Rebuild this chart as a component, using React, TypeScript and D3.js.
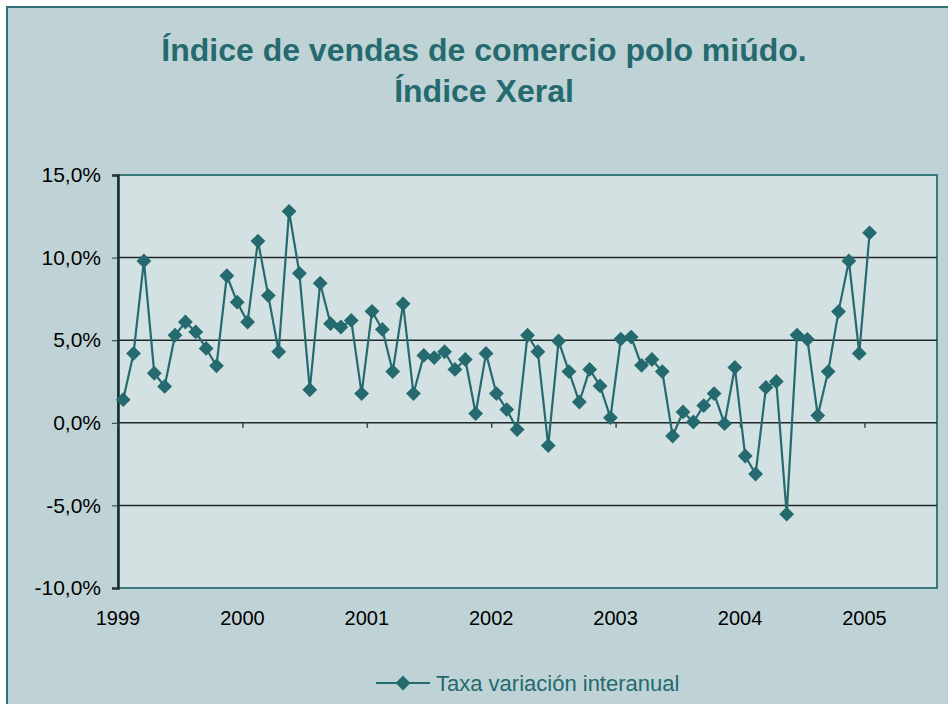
import { useEffect, useRef } from "react";
import * as d3 from "d3";

// taxa de variación interanual, mensual xan 1999 - xan 2005
const values = [
  1.4, 4.2, 9.8, 3.0, 2.2, 5.3, 6.1, 5.5, 4.5, 3.45, 8.9, 7.3,
  6.1, 11.0, 7.7, 4.3, 12.8, 9.05, 2.0, 8.45, 6.0, 5.8, 6.2, 1.77,
  6.75, 5.65, 3.1, 7.2, 1.77, 4.08, 3.95, 4.3, 3.23, 3.83, 0.56, 4.2,
  1.77, 0.8, -0.41, 5.3, 4.3, -1.38, 4.95, 3.1, 1.26, 3.23, 2.23, 0.31,
  5.07, 5.19, 3.48, 3.83, 3.1, -0.8, 0.66, 0.05, 1.04, 1.77, -0.05, 3.35,
  -2.01, -3.1, 2.14, 2.5, -5.53, 5.31, 5.05, 0.44, 3.1, 6.73, 9.8, 4.2,
  11.5,
];
const yearLabels = ["1999", "2000", "2001", "2002", "2003", "2004", "2005"];
const yTicks = [-10, -5, 0, 5, 10, 15];
const titleLines = ["Índice de vendas de comercio polo miúdo.", "Índice Xeral"];
const seriesName = "Taxa variación interanual";

const W = 948,
  H = 704;
const teal = "#246a6e";
const font = "'Liberation Sans', Arial, sans-serif";

const App = () => {
  const ref = useRef<SVGSVGElement>(null);

  useEffect(() => {
    const svg = d3.select(ref.current);
    svg.selectAll("*").remove();

    const margin = { top: 175, right: 11, bottom: 116, left: 118 };
    const nCats = 79;

    const x = d3.scaleLinear().domain([0, nCats]).range([margin.left, W - margin.right]);
    const y = d3.scaleLinear().domain([-10, 15]).range([H - margin.bottom, margin.top]);

    svg.append("rect").attr("width", W).attr("height", H).attr("fill", "#ffffff");
    svg
      .append("rect")
      .attr("x", 7)
      .attr("y", 7)
      .attr("width", W + 10)
      .attr("height", H + 10)
      .attr("fill", "#bfd3d6")
      .attr("stroke", "#2f7074")
      .attr("stroke-width", 2);

    // title
    svg
      .append("g")
      .selectAll("text")
      .data(titleLines)
      .enter()
      .append("text")
      .attr("x", 484)
      .attr("y", (d, i) => 61 + i * 41)
      .attr("text-anchor", "middle")
      .attr("fill", teal)
      .style("font", "bold 32px " + font)
      .text((d) => d);

    // plot area
    svg
      .append("rect")
      .attr("x", x(0))
      .attr("y", y(15))
      .attr("width", x(nCats) - x(0))
      .attr("height", y(-10) - y(15))
      .attr("fill", "#d4e1e2")
      .attr("stroke", "#3a7a7d")
      .attr("stroke-width", 2);

    // gridlines
    svg
      .append("g")
      .selectAll("line")
      .data(yTicks.filter((t) => t > -10 && t < 15))
      .enter()
      .append("line")
      .attr("x1", x(0))
      .attr("x2", x(nCats))
      .attr("y1", (d) => y(d))
      .attr("y2", (d) => y(d))
      .attr("stroke", "#1e2a2a")
      .attr("stroke-width", 1.5);

    // y axis
    const yAxis = svg
      .append("g")
      .attr("transform", "translate(" + x(0) + ",0)")
      .call(
        d3
          .axisLeft(y)
          .tickValues(yTicks)
          .tickSize(6)
          .tickPadding(11)
          .tickFormat((d) => d3.format(".1f")(d as number).replace("−", "-").replace(".", ",") + "%")
      );
    yAxis.select(".domain").attr("stroke", "#0f2e30").attr("stroke-width", 2.5);
    yAxis.selectAll(".tick line").attr("stroke", "#333");
    yAxis
      .selectAll("text")
      .attr("fill", "#000")
      .style("font", "21px " + font);

    // x axis at 0
    const yearTicks = yearLabels.map((_, i) => i * 12);
    const xAxis = svg
      .append("g")
      .attr("transform", "translate(0," + y(0) + ")")
      .call(d3.axisBottom(x).tickValues(yearTicks).tickSize(5));
    xAxis.select(".domain").remove();
    xAxis.selectAll(".tick line").attr("stroke", "#444").attr("stroke-width", 1.5);
    xAxis.selectAll("text").remove();

    svg
      .append("g")
      .selectAll("text")
      .data(yearLabels)
      .enter()
      .append("text")
      .attr("x", (d, i) => x(yearTicks[i]))
      .attr("y", 625)
      .attr("text-anchor", "middle")
      .attr("fill", "#000")
      .style("font", "20px " + font)
      .text((d) => d);

    // series
    const line = d3
      .line<number>()
      .x((d, i) => x(i + 0.5))
      .y((d) => y(d));

    svg
      .append("path")
      .datum(values)
      .attr("d", line)
      .attr("fill", "none")
      .attr("stroke", teal)
      .attr("stroke-width", 2.2);

    const diamond = d3.symbol().type(d3.symbolDiamond2).size(140);

    svg
      .append("g")
      .selectAll("path")
      .data(values)
      .enter()
      .append("path")
      .attr("d", diamond)
      .attr("transform", (d, i) => "translate(" + x(i + 0.5) + "," + y(d) + ")")
      .attr("fill", teal);

    // legend
    const lg = svg.append("g").attr("transform", "translate(376,683)");
    lg.append("line").attr("x1", 0).attr("x2", 54).attr("stroke", teal).attr("stroke-width", 2.2);
    lg.append("path").attr("d", diamond).attr("transform", "translate(27,0)").attr("fill", teal);
    lg.append("text")
      .attr("x", 60)
      .attr("y", 8)
      .attr("fill", teal)
      .style("font", "22px " + font)
      .text(seriesName);
  }, []);

  return (
    <svg
      ref={ref}
      width={W}
      height={H}
      style={{ position: "absolute", left: 0, top: 0, display: "block" }}
    />
  );
};

export default App;
